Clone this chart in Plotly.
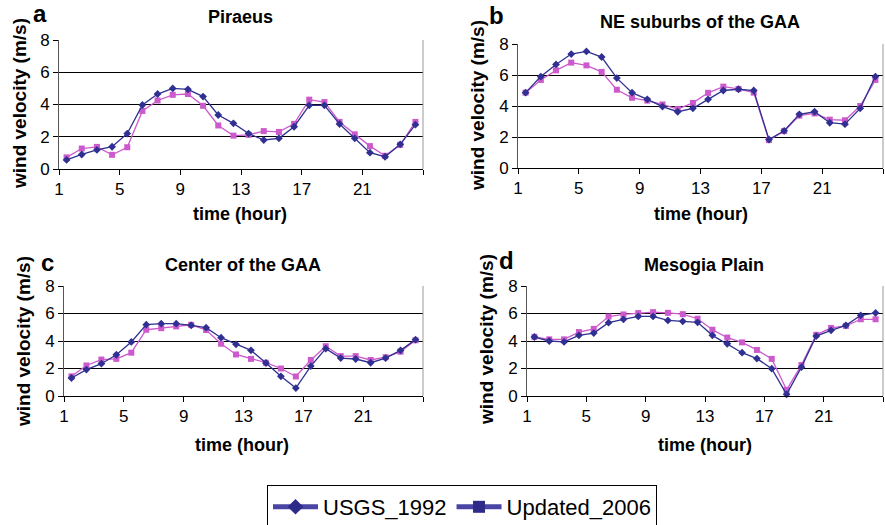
import plotly.graph_objects as go

hours = list(range(1, 25))
tick_pos = [0.5, 4.5, 8.5, 12.5, 16.5, 20.5, 24.5]
tick_txt = ["1", "5", "9", "13", "17", "21", ""]

titles = ["Piraeus", "NE suburbs of the GAA", "Center of the GAA", "Mesogia Plain"]
letters = ["a", "b", "c", "d"]

usgs_a = [0.56, 0.90, 1.18, 1.38, 2.20, 3.97, 4.65, 5.00, 4.94, 4.49, 3.35, 2.83,
          2.20, 1.80, 1.90, 2.62, 3.95, 3.95, 2.79, 1.90, 1.01, 0.76, 1.53, 2.75]
upd_a = [0.72, 1.27, 1.37, 0.88, 1.35, 3.60, 4.25, 4.60, 4.65, 3.92, 2.70, 2.07,
         2.12, 2.35, 2.30, 2.80, 4.30, 4.15, 2.92, 2.15, 1.42, 0.82, 1.50, 2.92]

usgs_b = [4.86, 5.90, 6.68, 7.35, 7.52, 7.16, 5.80, 4.86, 4.43, 3.96, 3.63, 3.85,
          4.43, 5.00, 5.08, 5.00, 1.84, 2.40, 3.46, 3.63, 2.92, 2.83, 3.85, 5.90]
upd_b = [4.86, 5.68, 6.30, 6.80, 6.62, 6.20, 5.05, 4.53, 4.35, 4.10, 3.80, 4.20,
         4.85, 5.25, 5.10, 4.86, 1.80, 2.38, 3.38, 3.52, 3.12, 3.08, 4.00, 5.68]

usgs_c = [1.31, 1.92, 2.35, 3.00, 3.93, 5.19, 5.26, 5.26, 5.14, 4.97, 4.24, 3.76,
          3.32, 2.40, 1.43, 0.58, 2.18, 3.44, 2.76, 2.69, 2.42, 2.76, 3.32, 4.10]
upd_c = [1.43, 2.22, 2.65, 2.70, 3.15, 4.82, 4.93, 5.06, 5.18, 4.80, 3.80, 3.02,
         2.70, 2.42, 2.00, 1.42, 2.62, 3.62, 2.90, 2.90, 2.62, 2.82, 3.22, 4.05]

usgs_d = [4.29, 4.00, 3.93, 4.41, 4.58, 5.33, 5.58, 5.79, 5.79, 5.50, 5.43, 5.36,
          4.41, 3.80, 3.15, 2.72, 1.99, 0.12, 2.10, 4.36, 4.78, 5.14, 5.87, 6.04]
upd_d = [4.30, 4.12, 4.12, 4.65, 4.88, 5.78, 5.93, 6.03, 6.10, 6.05, 5.95, 5.62,
         4.82, 4.25, 3.90, 3.35, 2.70, 0.45, 2.25, 4.45, 4.95, 5.10, 5.58, 5.58]

usgs = [usgs_a, usgs_b, usgs_c, usgs_d]
upd = [upd_a, upd_b, upd_c, upd_d]

W, H = 885, 525
BLUE = "#303092"
PINK = "#CC5ACC"
FONT = "Liberation Sans, Arial, sans-serif"

# plot-area boxes in pixels: left, right, top, bottom
boxes = [(59, 423, 40, 169), (518, 883, 44, 168), (64, 423, 286, 396), (527, 883, 286, 396)]
title_pos = [(240, 17), (700, 22), (243, 265), (704, 265)]
letter_pos = [(40, 14), (497, 16), (47, 262), (507, 260)]
ytitle_pos = [(19, 104), (477, 106), (23, 342), (486, 340)]
xtitle_pos = [(240, 214), (701, 214), (242, 445), (705, 445)]

fig = go.Figure()
annotations = []
shapes = []
for i in range(4):
    xa = "x" if i == 0 else f"x{i+1}"
    ya = "y" if i == 0 else f"y{i+1}"
    l, r, t, b = boxes[i]
    fig.add_trace(go.Scatter(x=hours, y=upd[i], xaxis=xa, yaxis=ya, mode="lines+markers",
                             line=dict(color=PINK, width=1.3),
                             marker=dict(symbol="square", size=6, color=PINK),
                             showlegend=False, name="Updated_2006", cliponaxis=False))
    fig.add_trace(go.Scatter(x=hours, y=usgs[i], xaxis=xa, yaxis=ya, mode="lines+markers",
                             line=dict(color=BLUE, width=1.3),
                             marker=dict(symbol="diamond", size=6, color=BLUE),
                             showlegend=False, name="USGS_1992", cliponaxis=False))
    axkey = "xaxis" if i == 0 else f"xaxis{i+1}"
    aykey = "yaxis" if i == 0 else f"yaxis{i+1}"
    fig.layout[axkey] = dict(domain=[l / W, r / W], anchor=ya, range=[0.5, 24.5],
                             automargin=False,
                             tickmode="array", tickvals=tick_pos, ticktext=tick_txt,
                             ticks="outside", ticklen=5, tickcolor="black",
                             showline=True, linecolor="black", linewidth=1,
                             showgrid=False, zeroline=False,
                             tickfont=dict(family=FONT, size=17, color="black"))
    fig.layout[aykey] = dict(domain=[1 - b / H, 1 - t / H], anchor=xa, range=[0, 8],
                             automargin=False,
                             tickmode="array", tickvals=[0, 2, 4, 6, 8],
                             ticks="outside", ticklen=5, tickcolor="black",
                             showline=True, linecolor="#555555", linewidth=1,
                             showgrid=True, gridcolor="black", gridwidth=1,
                             zeroline=False,
                             tickfont=dict(family=FONT, size=17, color="black"))
    shapes.append(dict(type="line", xref=f"{xa} domain", yref=f"{ya} domain",
                       x0=1, x1=1, y0=0, y1=1, line=dict(color="#999999", width=1)))
    tx, ty = title_pos[i]
    annotations.append(dict(text=f"<b>{titles[i]}</b>", x=tx / W, y=1 - ty / H,
                            xref="paper", yref="paper", showarrow=False,
                            xanchor="center", yanchor="middle",
                            font=dict(family=FONT, size=18, color="black")))
    lx, ly = letter_pos[i]
    annotations.append(dict(text=f"<b>{letters[i]}</b>", x=lx / W, y=1 - ly / H,
                            xref="paper", yref="paper", showarrow=False,
                            xanchor="center", yanchor="middle",
                            font=dict(family=FONT, size=24, color="black")))
    yx, yy = ytitle_pos[i]
    annotations.append(dict(text="<b>wind velocity (m/s)</b>", x=yx / W, y=1 - yy / H,
                            xref="paper", yref="paper", showarrow=False, textangle=-90,
                            xanchor="center", yanchor="middle",
                            font=dict(family=FONT, size=19, color="black")))
    xx, xy = xtitle_pos[i]
    annotations.append(dict(text="<b>time (hour)</b>", x=xx / W, y=1 - xy / H,
                            xref="paper", yref="paper", showarrow=False,
                            xanchor="center", yanchor="middle",
                            font=dict(family=FONT, size=18, color="black")))

fig.add_trace(go.Scatter(x=[None], y=[None], mode="lines+markers", name="USGS_1992",
                         line=dict(color="#4A44A4", width=1.3),
                         marker=dict(symbol="diamond", size=9, color="#2E2A8A")))
fig.add_trace(go.Scatter(x=[None], y=[None], mode="lines+markers", name="Updated_2006",
                         line=dict(color="#4A44A4", width=1.3),
                         marker=dict(symbol="square", size=10, color="#2E2A8A")))

fig.update_layout(
    template="none",
    width=W, height=H, margin=dict(l=0, r=0, t=0, b=0, pad=0, autoexpand=False),
    paper_bgcolor="white", plot_bgcolor="white",
    font=dict(family=FONT, color="black"),
    annotations=annotations, shapes=shapes,
    showlegend=True,
    legend=dict(orientation="h", x=267 / W, y=1 - 485 / H, xanchor="left", yanchor="top",
                bordercolor="black", borderwidth=1, bgcolor="white",
                font=dict(family=FONT, size=22, color="black"),
                itemsizing="constant", itemwidth=45, tracegroupgap=0),
)

fig.write_html("out.html", config={"displayModeBar": False},
               post_script="document.body.style.margin='0';document.body.style.overflow='hidden';")
